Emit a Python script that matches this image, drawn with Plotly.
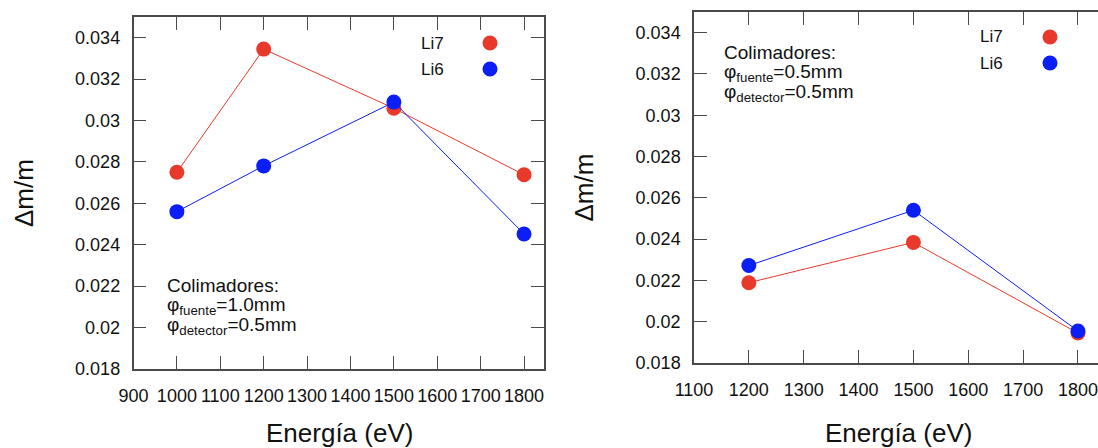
import plotly.graph_objects as go

W, H = 1098, 448

# ---------------- data ----------------
energia_izq = [1000, 1200, 1500, 1800]
li7_izq = [0.02750, 0.03345, 0.03059, 0.02738]
li6_izq = [0.02560, 0.02781, 0.03089, 0.02452]

energia_der = [1200, 1500, 1800]
li7_der = [0.02189, 0.02384, 0.01945]
li6_der = [0.02272, 0.02540, 0.01955]

y_ticks = [0.018, 0.020, 0.022, 0.024, 0.026, 0.028, 0.030, 0.032, 0.034]
y_tick_labels = ["0.018", "0.02", "0.022", "0.024", "0.026", "0.028", "0.03", "0.032", "0.034"]
x_ticks_izq = [900, 1000, 1100, 1200, 1300, 1400, 1500, 1600, 1700, 1800]
x_ticks_der = [1100, 1200, 1300, 1400, 1500, 1600, 1700, 1800]

series_names = ["Li7", "Li6"]
colores = ["#e8392b", "#0a1ef5"]

FONT = "Liberation Sans, Arial, Helvetica, sans-serif"
AX = "#4a4a4a"


def px(x):
    return x / W


def py(y):
    return 1 - y / H


fig = go.Figure()

for name, col, yv in zip(series_names, colores, [li7_izq, li6_izq]):
    fig.add_trace(go.Scatter(x=energia_izq, y=yv, mode="lines+markers", name=name,
                             line=dict(color=col, width=1),
                             marker=dict(color=col, size=15),
                             xaxis="x", yaxis="y", showlegend=False))
for name, col, yv in zip(series_names, colores, [li7_der, li6_der]):
    fig.add_trace(go.Scatter(x=energia_der, y=yv, mode="lines+markers", name=name,
                             line=dict(color=col, width=1),
                             marker=dict(color=col, size=15),
                             xaxis="x2", yaxis="y2", showlegend=False))

axis_common = dict(showgrid=False, zeroline=False, showline=True, linecolor=AX, linewidth=1.5,
                   ticks="inside", ticklen=13, tickwidth=1.2, tickcolor=AX,
                   tickfont=dict(family=FONT, size=18, color="#111"), automargin=False,
                   ticklabeloverflow="allow")

x1_dom = [px(133.5), px(544)]
y1_dom = [py(369), py(17)]
x2_dom = [px(694), 1.0]
y2_dom = [py(363), py(12)]

fig.update_layout(
    width=W, height=H, margin=dict(l=0, r=0, t=0, b=0),
    paper_bgcolor="white", plot_bgcolor="white", showlegend=False,
    xaxis=dict(domain=x1_dom, range=[900, 1846], anchor="y", mirror="ticks",
               tickvals=x_ticks_izq, ticktext=[str(v) for v in x_ticks_izq],
               ticklabelstandoff=10, **axis_common),
    yaxis=dict(domain=y1_dom, range=[0.018, 0.035], anchor="x", mirror="ticks",
               tickvals=y_ticks, ticktext=y_tick_labels, ticklabelstandoff=8, **axis_common),
    xaxis2=dict(domain=x2_dom, range=[1100, 1836.5], anchor="y2", mirror="ticks",
                tickvals=x_ticks_der, ticktext=[str(v) for v in x_ticks_der],
                ticklabelstandoff=10, **axis_common),
    yaxis2=dict(domain=y2_dom, range=[0.018, 0.035], anchor="x2", mirror=False,
                tickvals=y_ticks, ticktext=y_tick_labels, ticklabelstandoff=8, **axis_common),
)

annotations = []
txt_font = dict(family=FONT, size=19, color="#111")
# axis titles
for cx, cy in [(24, 193), (583, 187.5)]:
    annotations.append(dict(text="Δm/m", x=px(cx), y=py(cy), xref="paper", yref="paper",
                            showarrow=False, textangle=-90, xanchor="center", yanchor="middle",
                            font=dict(family=FONT, size=26, color="#111")))
for cx, cy in [(339, 433), (898, 433)]:
    annotations.append(dict(text="Energía (eV)", x=px(cx), y=py(cy), xref="paper", yref="paper",
                            showarrow=False, xanchor="center", yanchor="middle",
                            font=dict(family=FONT, size=26, color="#111")))

# collimator notes
notas = [
    (165, [292, 313, 333], ["Colimadores:", "φ<sub>fuente</sub>=1.0mm", "φ<sub>detector</sub>=0.5mm"]),
    (722, [59, 80, 100], ["Colimadores:", "φ<sub>fuente</sub>=0.5mm", "φ<sub>detector</sub>=0.5mm"]),
]
for x0, ys, lines in notas:
    for yb, t in zip(ys, lines):
        annotations.append(dict(text=t, x=px(x0), y=py(yb - 7), xref="paper", yref="paper",
                                showarrow=False, xanchor="left", yanchor="middle", font=txt_font))

# legend keys (text left, symbol right, gnuplot style)
shapes = []
for tx, mx, ys in [(446, 490, [43, 69]), (1005, 1050, [37, 63])]:
    for name, col, yy in zip(series_names, colores, ys):
        annotations.append(dict(text=name, x=px(tx), y=py(yy), xref="paper", yref="paper",
                                showarrow=False, xanchor="right", yanchor="middle",
                                font=dict(family=FONT, size=17, color="#111")))
        r = 7.5
        shapes.append(dict(type="circle", xref="paper", yref="paper",
                           x0=px(mx - r), x1=px(mx + r), y0=py(yy + r), y1=py(yy - r),
                           fillcolor=col, line=dict(width=0)))

fig.update_layout(annotations=annotations, shapes=shapes)

fig.write_html("out.html")
